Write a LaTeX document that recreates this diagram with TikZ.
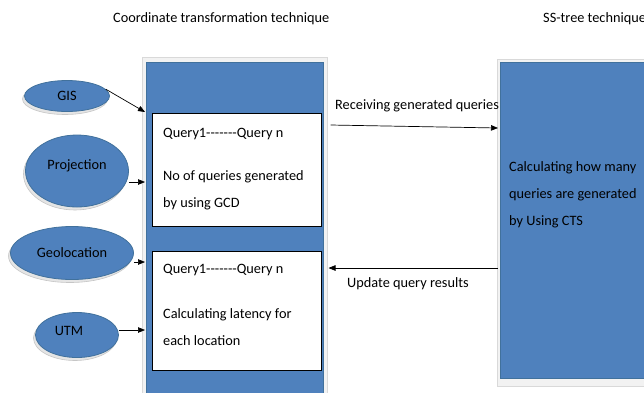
\documentclass[tikz,border=0pt]{standalone}
\usepackage{fontspec}
\setmainfont{Carlito}
\usetikzlibrary{shapes.geometric,arrows.meta,calc}
\definecolor{ofblue}{HTML}{4F81BD}
\definecolor{ofedge}{HTML}{41719C}
\newcommand\mydashes{-{}-{}-{}-{}-{}-{}-}
\begin{document}
\begin{tikzpicture}[x=1pt,y=-1pt,
  every node/.style={font=\fontsize{14.3}{27}\selectfont},
  blk/.style={fill=ofblue,draw=ofedge,line width=0.5pt,anchor=north west,inner sep=0pt},
  frame/.style={fill=gray!10,draw=gray!30,line width=0.6pt},
  wbox/.style={fill=white,draw=black,line width=0.6pt,anchor=north west,inner sep=0pt},
  oval/.style={ellipse,fill=ofblue,draw=ofedge,line width=0.8pt,inner sep=0pt},
  ovalshadow/.style={ellipse,fill=gray!20,draw=gray!45,line width=0.6pt,inner sep=0pt},
  txt/.style={anchor=west,inner sep=0pt,align=left},
  arr/.style={-{Triangle[length=7pt,width=5.5pt]},line width=0.7pt}]
\useasboundingbox (0,0) rectangle (644,392);
\clip (0,0) rectangle (644,392);
\fill[white] (0,0) rectangle (644,392);
% titles
\node[txt] (t1) at (113,19) {Coordinate transformation technique};
\node[txt] (t2) at (543,19) {SS-tree technique};
% left block
\draw[frame] (142,57) rectangle (327,400);
\node[blk,minimum width=177pt,minimum height=340pt] (L) at (146,62) {};
\node[wbox,minimum width=169pt,minimum height=113pt] (B1) at (152,113) {};
\node[wbox,minimum width=169pt,minimum height=119pt] (B2) at (152,251) {};
\node[txt] (q1) at (163,134) {Query1\mydashes Query n};
\node[txt] (d1) at (163,190.5) {No of queries generated\\by using GCD};
\node[txt] (q2) at (163,270) {Query1\mydashes Query n};
\node[txt] (d2) at (163,327) {Calculating latency for\\each location};
% right block
\draw[frame] (497,59) rectangle (660,386);
\node[blk,minimum width=170pt,minimum height=316pt] (R) at (500,62) {};
\node[txt] (r1) at (509,195) {Calculating how many\\queries are generated\\by Using CTS};
% ellipses
\node[ovalshadow,minimum width=85pt,minimum height=31pt] at (65,99) {};
\node[oval,minimum width=85pt,minimum height=31pt] (gis) at (67,96) {GIS\hspace{20pt}};
\node[ovalshadow,minimum width=103pt,minimum height=72pt] at (75,174) {};
\node[oval,minimum width=103pt,minimum height=72pt] (proj) at (77,171) {\raisebox{12pt}{Projection}};
\node[ovalshadow,minimum width=123pt,minimum height=53pt] at (70,256) {};
\node[oval,minimum width=123pt,minimum height=53pt] (geo) at (72,253) {Geolocation};
\node[ovalshadow,minimum width=83pt,minimum height=45pt] at (75,338) {};
\node[oval,minimum width=83pt,minimum height=45pt] (utm) at (77,335) {\raisebox{8pt}{UTM\hspace{16pt}}};
% arrows into left block
\draw[arr] (gis.10) -- ($(L.north west)+(-1,50)$);
\draw[arr] (proj.east |- 0,182) -- ($(L.north west)+(-1,120)$);
\draw[arr] (geo.east |- 0,262) -- ($(L.north west)+(-1,200)$);
\draw[arr] (utm.east |- 0,330) -- ($(L.north west)+(-1,268)$);
% arrows between blocks
\draw[arr] ($(L.north east)+(7,63)$) -- ($(R.north west)+(-2,66)$);
\node[txt] (lab1) at (335,106) {Receiving generated queries};
\draw[arr] ($(R.north west)+(-2,206)$) -- ($(L.north east)+(5,206)$);
\node[txt] (lab2) at (347,284) {Update query results};
\end{tikzpicture}
\end{document}
